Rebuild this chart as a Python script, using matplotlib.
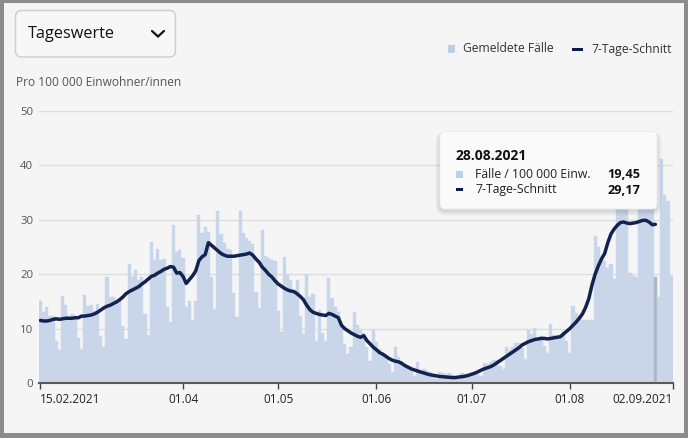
import numpy as np
import pandas as pd
import matplotlib
matplotlib.use("Agg")
import matplotlib.pyplot as plt
from matplotlib.patches import FancyBboxPatch, Rectangle
from matplotlib.lines import Line2D

plt.rcParams['font.family'] = ['Open Sans', 'DejaVu Sans']

# daily cases per 100 000 inhabitants, from 15.02.2021
start = "2021-02-15"
faelle = [
    15.0, 13.0, 13.9, 12.4, 12.4, 7.8, 6.0, 16.0, 14.4, 12.4,
    12.7, 12.4, 8.2, 6.2, 16.2, 14.2, 14.3, 13.2, 14.6, 8.7,
    6.6, 19.5, 15.9, 15.9, 15.3, 15.3, 10.5, 8.0, 21.8, 19.4,
    20.8, 18.9, 19.4, 12.7, 8.9, 25.9, 22.7, 24.6, 22.7, 22.8,
    13.9, 11.3, 29.0, 24.1, 24.4, 22.9, 13.9, 15.1, 11.6, 15.1,
    30.8, 27.6, 28.7, 27.7, 19.4, 13.6, 31.6, 27.4, 25.8, 24.6,
    24.5, 16.5, 12.2, 31.6, 27.6, 26.6, 26.1, 25.6, 16.8, 13.7,
    28.1, 23.4, 23.0, 22.6, 22.4, 13.3, 9.4, 23.2, 19.9, 19.0,
    16.9, 18.9, 12.3, 9.0, 19.8, 15.8, 16.4, 7.8, 13.4, 9.2,
    7.7, 19.3, 15.6, 14.0, 13.1, 10.8, 7.2, 5.4, 6.6, 13.1,
    10.6, 9.9, 9.1, 6.6, 4.0, 9.8, 7.5, 6.3, 5.6, 4.9,
    3.5, 2.0, 6.6, 4.8, 4.0, 3.4, 2.8, 2.5, 1.3, 3.8,
    2.4, 2.6, 2.2, 2.0, 1.2, 0.8, 2.0, 1.8, 1.7, 1.9,
    1.5, 1.0, 0.7, 1.8, 1.6, 1.4, 1.8, 1.8, 1.6, 1.2,
    3.6, 3.5, 3.8, 4.3, 4.2, 3.2, 2.6, 6.6, 6.1, 6.7,
    7.4, 7.3, 6.5, 4.5, 9.8, 9.0, 10.2, 8.0, 8.6, 6.8,
    5.6, 10.9, 8.9, 8.9, 8.8, 9.5, 7.7, 5.5, 14.1, 12.9,
    12.3, 11.6, 11.5, 11.5, 11.6, 27.0, 25.0, 23.0, 22.5, 21.2,
    21.8, 19.2, 38.0, 38.5, 37.0, 33.0, 20.3, 19.7, 19.5, 36.0,
    35.0, 34.0, 33.5, 32.5, 19.45, 15.8, 41.1, 34.5, 33.4, 19.6,
]

# 7-day average, ends on 28.08.2021
schnitt = [
    11.5, 11.4, 11.4, 11.5, 11.7, 11.8, 11.7, 11.8, 11.9, 11.9,
    11.9, 12.0, 12.0, 12.3, 12.3, 12.4, 12.5, 12.7, 13.0, 13.4,
    13.8, 14.1, 14.3, 14.6, 14.9, 15.3, 15.8, 16.4, 16.8, 17.1,
    17.4, 17.7, 18.2, 18.6, 19.1, 19.6, 19.8, 20.2, 20.5, 20.9,
    21.1, 21.4, 21.3, 20.2, 20.3, 19.6, 18.3, 19.0, 19.7, 20.6,
    22.5, 23.2, 23.6, 25.8, 25.3, 24.8, 24.3, 23.8, 23.5, 23.3,
    23.3, 23.3, 23.4, 23.5, 23.6, 23.7, 23.9, 23.5, 22.8, 22.2,
    21.3, 20.7, 20.0, 19.5, 18.8, 18.2, 17.8, 17.4, 17.1, 16.9,
    16.8, 16.4, 15.9, 15.3, 14.3, 13.5, 13.0, 12.8, 12.6, 12.5,
    12.4, 12.8, 12.6, 12.3, 12.0, 10.6, 10.0, 9.6, 9.2, 8.9,
    8.6, 8.4, 8.7, 7.8, 7.2, 6.6, 6.1, 5.6, 5.3, 4.9,
    4.5, 4.2, 4.0, 3.9, 3.6, 3.2, 2.9, 2.6, 2.4, 2.2,
    2.0, 1.85, 1.65, 1.5, 1.4, 1.3, 1.2, 1.15, 1.1, 1.05,
    1.0, 1.0, 1.1, 1.15, 1.25, 1.4, 1.6, 1.8, 2.05, 2.35,
    2.6, 2.8, 3.0, 3.3, 3.7, 4.1, 4.5, 4.9, 5.3, 5.7,
    6.1, 6.5, 7.0, 7.3, 7.6, 7.8, 8.0, 8.1, 8.2, 8.2,
    8.1, 8.2, 8.3, 8.4, 8.5, 9.0, 9.5, 10.0, 10.6, 11.2,
    11.9, 12.7, 13.9, 15.5, 18.0, 20.0, 21.5, 22.8, 23.8, 25.8,
    27.4, 28.3, 29.0, 29.5, 29.6, 29.4, 29.3, 29.4, 29.5, 29.7,
    29.9, 29.9, 29.6, 29.1, 29.17,
]

tick_dates = ["2021-02-15", "2021-04-01", "2021-05-01", "2021-06-01",
              "2021-07-01", "2021-08-01", "2021-09-02"]
tick_labels = ["15.02.2021", "01.04", "01.05", "01.06", "01.07", "01.08", "02.09.2021"]
y_ticks = [0, 10, 20, 30, 40, 50]
hover_date = "2021-08-28"

bar_col = '#c9d6e9'
hover_col = '#adb6c6'
line_col = '#13224f'

dates = pd.date_range(start, periods=len(faelle), freq="D")
x = np.arange(len(faelle))
hover_i = int((pd.Timestamp(hover_date) - dates[0]).days)

fig = plt.figure(figsize=(6.88, 4.38), dpi=100, facecolor='#f5f5f5')
W, H = 688, 438

ax = fig.add_axes([38.8 / W, 55 / H, 634 / W, 272 / H])
ax.set_facecolor('none')

colors = [hover_col if i == hover_i else bar_col for i in x]
ax.bar(x, faelle, width=1.0, color=colors, edgecolor=colors, linewidth=0.3, zorder=2)
ax.plot(x[:len(schnitt)], schnitt, color=line_col, lw=2.5,
        solid_joinstyle='round', solid_capstyle='round', zorder=3)

ax.set_xlim(-0.5, len(faelle) - 0.5)
ax.set_ylim(0, 50)
ax.set_yticks(y_ticks)
ax.grid(axis='y', color='#dcdcdc', lw=1.0, zorder=0)
ax.set_axisbelow(True)

tpos = [(pd.Timestamp(d) - dates[0]).days for d in tick_dates]
tpos[-1] = len(faelle) - 0.5
ax.set_xticks(tpos)
ax.set_xticklabels(tick_labels)
lbls = ax.get_xticklabels()
lbls[0].set_ha('left')
lbls[-1].set_ha('right')

for s in ['top', 'right', 'left']:
    ax.spines[s].set_visible(False)
ax.spines['bottom'].set_color('#5a5a5a')
ax.spines['bottom'].set_linewidth(1.5)
ax.spines['bottom'].set_zorder(4)
ax.tick_params(axis='y', length=0, pad=4, labelsize=8.2, labelcolor='#555555')
ax.tick_params(axis='x', length=4, width=1, color='#444444', pad=3,
               labelsize=8.5, labelcolor='#222222')

# overlay in pixel coordinates
ov = fig.add_axes([0, 0, 1, 1], zorder=10)
ov.set_xlim(0, W)
ov.set_ylim(H, 0)
ov.axis('off')

# dropdown
ov.add_patch(FancyBboxPatch((15.5, 10.5), 160, 46.5,
                            boxstyle="round,pad=0,rounding_size=6",
                            fc='#f7f7f7', ec='#cdcdcd', lw=1))
ov.text(28, 34, "Tageswerte", fontsize=11.7, color='#111111', va='center', ha='left')
ov.add_line(Line2D([152, 158, 164], [31, 36.5, 31], color='#111111', lw=1.6,
                   solid_capstyle='round', solid_joinstyle='miter'))

ov.text(15.5, 83, "Pro 100 000 Einwohner/innen", fontsize=8.6, color='#555555',
        va='center', ha='left')

# legend
ov.add_patch(Rectangle((447.5, 45), 7.5, 7.5, fc='#bccfe8', lw=0))
ov.text(463, 49, "Gemeldete Fälle", fontsize=8.7, color='#333333', va='center', ha='left')
ov.add_patch(Rectangle((572, 47.5), 10.5, 3.2, fc='#0d1a4a', lw=0))
ov.text(591.5, 49, "7-Tage-Schnitt", fontsize=8.7, color='#333333', va='center', ha='left')

# tooltip
tx, ty, tw, th = 440, 131.5, 217, 77.5
for k in range(1, 7):
    ov.add_patch(FancyBboxPatch((tx - k * 0.8, ty + 2 - k * 0.4), tw + k * 1.6, th + k * 1.2,
                                boxstyle="round,pad=0,rounding_size=%.1f" % (5 + k),
                                fc='black', alpha=0.018, lw=0))
ov.add_patch(FancyBboxPatch((tx, ty), tw, th, boxstyle="round,pad=0,rounding_size=5",
                            fc='#fafafa', ec='#ececec', lw=0.6))
hd = pd.Timestamp(hover_date)
ov.text(456, 155.5, hd.strftime("%d.%m.%Y"), fontsize=10, fontweight='bold',
        color='#111111', va='center', ha='left')
ov.add_patch(Rectangle((456, 171), 6.7, 6.7, fc='#bccfe8', lw=0))
ov.text(475, 174.3, "Fälle / 100 000 Einw.", fontsize=8.8, color='#222222',
        va='center', ha='left')
ov.text(640, 174.3, ("%.2f" % faelle[hover_i]).replace('.', ','), fontsize=9.2,
        fontweight='bold', color='#111111', va='center', ha='right')
ov.add_patch(Rectangle((456, 188), 7, 2.8, fc='#0d1a4a', lw=0))
ov.text(475, 190, "7-Tage-Schnitt", fontsize=8.8, color='#222222', va='center', ha='left')
ov.text(640, 190, ("%.2f" % schnitt[hover_i]).replace('.', ','), fontsize=9.2,
        fontweight='bold', color='#111111', va='center', ha='right')

# outer frame
frame = '#8c8c8c'
ov.add_patch(Rectangle((0, 0), W, 2.5, fc=frame, lw=0))
ov.add_patch(Rectangle((0, 0), 4, H, fc=frame, lw=0))
ov.add_patch(Rectangle((W - 4, 0), 4, H, fc=frame, lw=0))
ov.add_patch(Rectangle((0, H - 5), W, 5, fc=frame, lw=0))

fig.savefig("out.png", dpi=100, facecolor=fig.get_facecolor())
